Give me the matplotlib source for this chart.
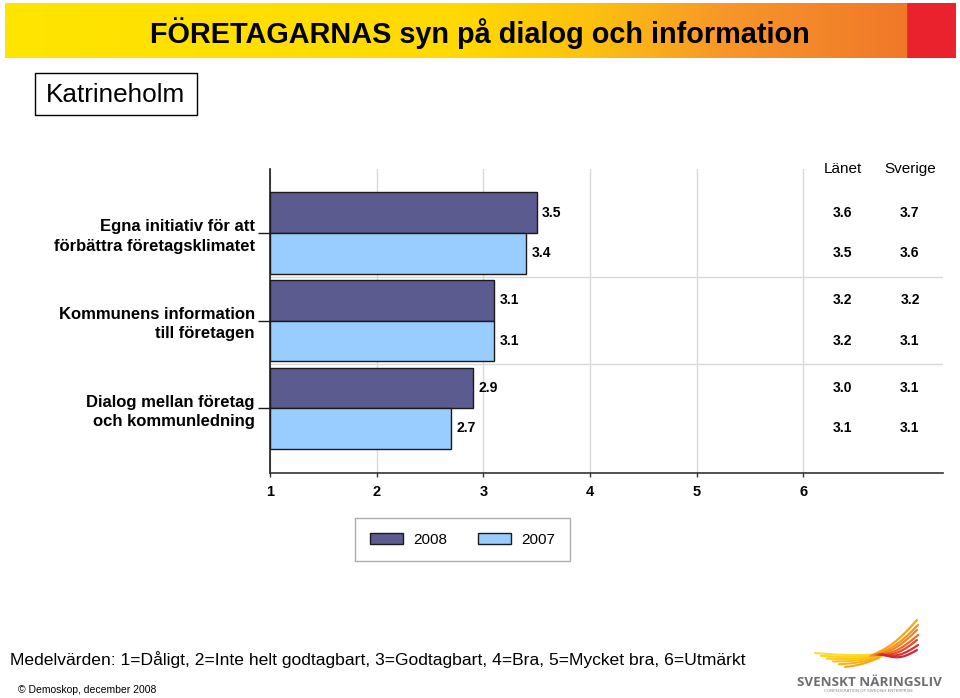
import numpy as np
import matplotlib
matplotlib.use("Agg")
import matplotlib.pyplot as plt
from matplotlib.colors import LinearSegmentedColormap
from matplotlib.patches import Rectangle
from matplotlib.transforms import blended_transform_factory

# data
kategorier = ["Egna initiativ för att\nförbättra företagsklimatet",
              "Kommunens information\ntill företagen",
              "Dialog mellan företag\noch kommunledning"]
v2008 = [3.5, 3.1, 2.9]
v2007 = [3.4, 3.1, 2.7]
lanet_2008 = ["3.6", "3.2", "3.0"]
lanet_2007 = ["3.5", "3.2", "3.1"]
sverige_2008 = ["3.7", "3.2", "3.1"]
sverige_2007 = ["3.6", "3.1", "3.1"]
skala = [1, 2, 3, 4, 5, 6]

MORK = "#5B5B8F"
LJUS = "#99CCFF"
W, H = 960, 698
FONT = "Liberation Sans"

fig = plt.figure(figsize=(9.6, 6.98), dpi=100)
fig.patch.set_facecolor("white")

# banner
bax = fig.add_axes([5 / W, 1 - 58 / H, 950 / W, 55 / H])
cmap = LinearSegmentedColormap.from_list("banner", [
    (0.0, "#FFE500"), (0.48, "#FFD900"), (0.62, "#FCC010"),
    (0.76, "#F7962A"), (0.95, "#F07828"), (0.952, "#E9222E"), (1.0, "#E9222E")])
grad = np.linspace(0, 1, 800)[None, :].repeat(10, axis=0)
bax.imshow(grad, aspect="auto", cmap=cmap, extent=(0, 1, 0, 1))
bax.set_xlim(0, 1)
bax.set_ylim(0, 1)
bax.axis("off")
fig.text(480 / W, 1 - 33 / H, "FÖRETAGARNAS syn på dialog och information",
         family=FONT, weight="bold", fontsize=20.8, ha="center", va="center")

# Katrineholm box
fig.patches.append(Rectangle((35 / W, 1 - 115 / H), 162 / W, 42 / H,
                             transform=fig.transFigure, fill=False,
                             edgecolor="black", linewidth=1.0))
fig.text(116 / W, 1 - 95 / H, "Katrineholm", family=FONT,
         fontsize=18.8, ha="center", va="center")

# main chart
ax = fig.add_axes([270 / W, 1 - 473 / H, (943 - 270) / W, (473 - 169) / H])
y = np.arange(len(kategorier))
h = 0.463
b1 = ax.barh(y - h / 2, [v - 1 for v in v2008], left=1, height=h,
             color=MORK, edgecolor="#1a1a1a", linewidth=1.0, label="2008", zorder=3)
b2 = ax.barh(y + h / 2, [v - 1 for v in v2007], left=1, height=h,
             color=LJUS, edgecolor="#1a1a1a", linewidth=1.0, label="2007", zorder=3)

for yi, v in zip(y - h / 2, v2008):
    ax.annotate(f"{v:.1f}", (v, yi), xytext=(4, 0), textcoords="offset points",
                va="center", ha="left", fontsize=10, weight="bold", family=FONT)
for yi, v in zip(y + h / 2, v2007):
    ax.annotate(f"{v:.1f}", (v, yi), xytext=(4, 0), textcoords="offset points",
                va="center", ha="left", fontsize=10, weight="bold", family=FONT)

# Länet / Sverige columns
for i in range(len(kategorier)):
    for xpos, a, b in [(6.37, lanet_2008, lanet_2007), (7.0, sverige_2008, sverige_2007)]:
        ax.text(xpos, y[i] - h / 2, a[i], ha="center", va="center",
                fontsize=10, weight="bold", family=FONT)
        ax.text(xpos, y[i] + h / 2, b[i], ha="center", va="center",
                fontsize=10, weight="bold", family=FONT)
tr = blended_transform_factory(ax.transData, ax.transAxes)
ax.text(6.37, 1.0, "Länet", transform=tr, ha="center", va="center",
        fontsize=11, family=FONT)
ax.text(7.0, 1.0, "Sverige", transform=tr, ha="center", va="center",
        fontsize=11, family=FONT)

ax.set_xlim(1, 7.31)
ax.set_ylim(2.74, -0.73)
ax.set_xticks(skala)
ax.set_xticklabels([str(s) for s in skala], fontsize=10.5, weight="bold", family=FONT)
ax.set_yticks(y)
ax.set_yticklabels(kategorier, fontsize=12, weight="bold", family=FONT)
for lbl in ax.get_yticklabels():
    lbl.set_linespacing(1.35)
ax.set_yticks([0.5, 1.5], minor=True)
ax.tick_params(axis="y", which="major", length=9, width=1.0, color="#1a1a1a", pad=2)
ax.tick_params(axis="y", which="minor", length=0)
ax.tick_params(axis="x", length=3, width=1.0, color="#333333", pad=6)
ax.grid(axis="x", which="major", color="#D9D9D9", linewidth=1.0, zorder=0)
ax.grid(axis="y", which="minor", color="#D9D9D9", linewidth=1.0, zorder=0)
ax.set_axisbelow(True)
for s in ["top", "right"]:
    ax.spines[s].set_visible(False)
ax.spines["left"].set_color("#1a1a1a")
ax.spines["bottom"].set_color("#333333")
ax.spines["left"].set_linewidth(1.2)
ax.spines["bottom"].set_linewidth(1.2)

leg = ax.legend(handles=[b1, b2], loc="center",
                bbox_to_anchor=(462.5 / W, 1 - 539.5 / H),
                bbox_transform=fig.transFigure, ncol=2, frameon=True,
                fancybox=False, edgecolor="#999999",
                handlelength=2.2, handleheight=0.75, handletextpad=0.65,
                columnspacing=2.0, borderpad=0.95,
                prop={"family": FONT, "size": 11})
leg.get_frame().set_linewidth(1.0)

# footer
fig.text(10 / W, 1 - 660 / H,
         "Medelvärden: 1=Dåligt, 2=Inte helt godtagbart, 3=Godtagbart, 4=Bra, 5=Mycket bra, 6=Utmärkt",
         family=FONT, fontsize=12.6, ha="left", va="center")
fig.text(18 / W, 1 - 690 / H, "© Demoskop, december 2008",
         family=FONT, fontsize=7.5, ha="left", va="center")

# logo
lax = fig.add_axes([790 / W, 0, 170 / W, 88 / H])
lax.set_xlim(0, 170)
lax.set_ylim(88, 0)
lax.axis("off")
t = np.linspace(0, 1, 40)
vanster = ["#FEDC2C", "#FDD21E", "#FDC815", "#FCBE12", "#FBB216", "#F9A61B"]
hoger = ["#F9A51B", "#F7941E", "#F58220", "#F06A23", "#E9482A", "#DE3030", "#D42538"]
for k, c in enumerate(vanster):
    sx, sy = 25 + k * 6, 43 + k * 2.8
    ex, ey = 96 - k * 1.5, 44 + k * 0.8
    xs = sx + (ex - sx) * t
    ys = sy + (ey - sy) * t + 1.5 * np.sin(np.pi * t)
    lax.plot(xs, ys, color=c, linewidth=1.5, solid_capstyle="round")
for k, c in enumerate(hoger):
    sx, sy = 80 + k * 2, 46 - k * 0.3
    ex, ey = 127 + (k % 2), 10 + k * 5
    xs = sx + (ex - sx) * t
    ys = sy + (ey - sy) * t + 5 * np.sin(np.pi * t)
    lax.plot(xs, ys, color=c, linewidth=1.6, solid_capstyle="round")
lax.text(79, 73, "SVENSKT NÄRINGSLIV", ha="center", va="center",
         fontsize=9.6, weight="bold", color="#6D6E71", family="Open Sans")
lax.text(79, 81, "CONFEDERATION OF SWEDISH ENTERPRISE", ha="center",
         va="center", fontsize=3, color="#8A8A8A", family="DejaVu Sans")

fig.savefig("out.png", dpi=100, facecolor="white")
